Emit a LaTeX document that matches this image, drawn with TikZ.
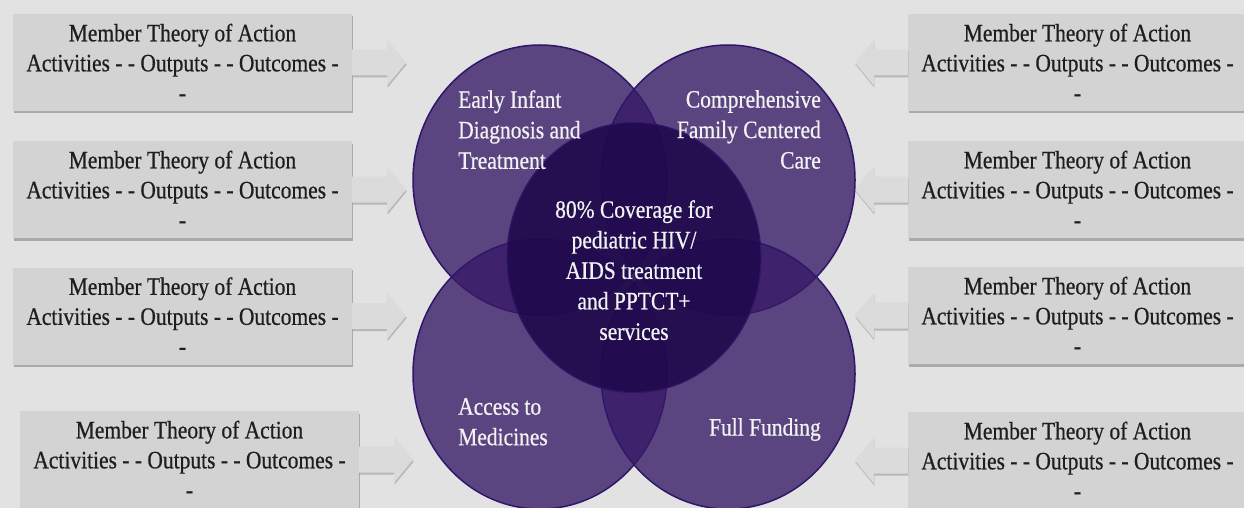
\documentclass[tikz,border=0pt]{standalone}
\usepackage{fontspec}
\setmainfont{Liberation Serif}[FakeStretch=0.86,FakeBold=0.6]
\usetikzlibrary{shadows,calc,shapes.geometric}
\definecolor{bg}{RGB}{226,226,226}
\definecolor{boxgray}{RGB}{211,211,211}
\definecolor{arrowgray}{RGB}{219,219,219}
\definecolor{circfill}{RGB}{55,27,103}
\definecolor{corefill}{RGB}{30,8,75}
\definecolor{circline}{RGB}{48,22,105}
\definecolor{textdark}{RGB}{30,30,30}
\definecolor{textlight}{RGB}{242,242,242}
\begin{document}
\begin{tikzpicture}[x=1pt,y=-1pt,
  memberbox/.style={fill=boxgray, minimum width=339pt, minimum height=97pt,
    inner sep=0pt, align=center, font=\fontsize{25}{30}\selectfont, text=textdark,
    drop shadow={shadow xshift=1pt, shadow yshift=-2.5pt, opacity=0.45, fill=black!60}},
  blockarrow/.style={fill=arrowgray,
    drop shadow={shadow xshift=0.5pt, shadow yshift=-2pt, opacity=0.35, fill=black!60}},
  venn/.style={ellipse, minimum width=254pt, minimum height=270pt, inner sep=0pt,
    fill=circfill, fill opacity=0.79, draw=circline, line width=1.5pt},
  core/.style={ellipse, minimum width=254pt, minimum height=270pt, inner sep=0pt,
    fill=corefill, fill opacity=0.87, draw=circline, line width=1.2pt},
  circtext/.style={inner sep=0pt, text=textlight, font=\fontsize{25}{30.5}\selectfont}
]
\fill[bg] (0,0) rectangle (1244,508);
\useasboundingbox (0,0) rectangle (1244,508);

% left boxes
\node[memberbox] (L1) at (182.5,62.5) {Member Theory of Action\\Activities - - Outputs - - Outcomes -\\-};
\node[memberbox] (L2) at (182.5,189.5) {Member Theory of Action\\Activities - - Outputs - - Outcomes -\\-};
\node[memberbox] (L3) at (182.5,316) {Member Theory of Action\\Activities - - Outputs - - Outcomes -\\-};
\node[memberbox] (L4) at (189.5,459.5) {Member Theory of Action\\Activities - - Outputs - - Outcomes -\\-};
% right boxes
\node[memberbox] (R1) at (1077.5,62.5) {Member Theory of Action\\Activities - - Outputs - - Outcomes -\\-};
\node[memberbox] (R2) at (1077.5,189.5) {Member Theory of Action\\Activities - - Outputs - - Outcomes -\\-};
\node[memberbox] (R3) at (1077.5,315.5) {Member Theory of Action\\Activities - - Outputs - - Outcomes -\\-};
\node[memberbox] (R4) at (1077.5,460.5) {Member Theory of Action\\Activities - - Outputs - - Outcomes -\\-};

% arrows
\foreach \b in {L1,L2,L3,L4}{
  \fill[blockarrow] ($(\b.east)+(0,-13)$) -- ++(35,0) -- ++(0,-10) -- ++(19,23)
    -- ++(-19,23) -- ++(0,-10) -- ++(-35,0) -- cycle;
}
\foreach \b in {R1,R2,R3,R4}{
  \fill[blockarrow] ($(\b.west)+(0,-13)$) -- ++(-34,0) -- ++(0,-10) -- ++(-19,23)
    -- ++(19,23) -- ++(0,-10) -- ++(34,0) -- cycle;
}

% circles
\node[venn] (eid) at (540,180) {};
\node[venn] (cfc) at (728,180) {};
\node[venn] (atm) at (540,374) {};
\node[venn] (ff)  at (728,374) {};
\node[core] (goal) at (634,257.5) {};

% labels
\node[circtext, anchor=north west, align=left] (eidt) at (458,90) {Early Infant\\Diagnosis and\\Treatment};
\node[circtext, anchor=north east, align=right] (cfct) at (821,90) {Comprehensive\\Family Centered\\Care};
\node[circtext, anchor=north, align=center] (goalt) at (634,200) {80\% Coverage for\\pediatric HIV/\\AIDS treatment\\and PPTCT+\\services};
\node[circtext, anchor=north west, align=left] (atmt) at (458,398) {Access to\\Medicines};
\node[circtext, anchor=north east, align=right] (fft) at (821,418) {Full Funding};
\end{tikzpicture}
\end{document}
